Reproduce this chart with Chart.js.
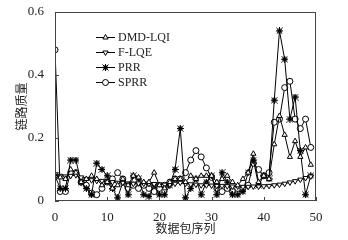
<!DOCTYPE html>
<html>
<head>
<meta charset="utf-8">
<script src="https://cdn.jsdelivr.net/npm/chart.js@4.4.1/dist/chart.umd.min.js"></script>
<style>
  html, body { margin: 0; padding: 0; background: #fff; }
  canvas { display: block; }
</style>
</head>
<body>
<canvas id="chartLinkQuality" width="348" height="240"></canvas>
<script>
// Séquence des paquets
const sequence = [0,1,2,3,4,5,6,7,8,9,10,11,12,13,14,15,16,17,18,19,20,21,22,23,24,25,26,27,28,29,30,31,32,33,34,35,36,37,38,39,40,41,42,43,44,45,46,47,48,49];

// Qualité de lien par méthode
const dmdLqi = [0.08,0.075,0.07,0.10,0.09,0.06,0.07,0.08,0.07,0.05,0.06,0.04,0.05,0.07,0.05,0.08,0.075,0.06,0.06,0.09,0.05,0.04,0.06,0.07,0.07,0.06,0.08,0.07,0.08,0.08,0.08,0.06,0.07,0.08,0.06,0.05,0.07,0.09,0.15,0.06,0.08,0.07,0.18,0.27,0.21,0.14,0.19,0.14,0.17,0.115];
const fLqe = [0.085,0.08,0.078,0.08,0.082,0.075,0.07,0.066,0.064,0.064,0.062,0.06,0.058,0.058,0.056,0.055,0.056,0.055,0.054,0.054,0.053,0.052,0.052,0.055,0.058,0.055,0.053,0.052,0.05,0.05,0.049,0.048,0.048,0.047,0.046,0.046,0.045,0.045,0.046,0.046,0.047,0.048,0.05,0.052,0.055,0.059,0.063,0.068,0.073,0.078];
const prr = [0.08,0.04,0.04,0.13,0.13,0.06,0.04,0.02,0.12,0.10,0.08,0.04,0.01,0.06,0.02,0.08,0.07,0.02,0.015,0.05,0.02,0.02,0.05,0.10,0.23,0.01,0.04,0.07,0.02,0.06,0.08,0.02,0.09,0.06,0.02,0.02,0.03,0.09,0.13,0.05,0.08,0.07,0.32,0.54,0.45,0.26,0.33,0.16,0.02,0.08];
const sprr = [0.48,0.03,0.03,0.09,0.09,0.06,0.05,0.025,0.02,0.04,0.06,0.07,0.09,0.07,0.04,0.05,0.04,0.05,0.04,0.03,0.04,0.05,0.06,0.07,0.07,0.09,0.13,0.16,0.14,0.105,0.075,0.04,0.03,0.04,0.03,0.04,0.04,0.05,0.12,0.10,0.08,0.09,0.25,0.26,0.36,0.38,0.26,0.23,0.26,0.17];

const seriesLabels = ['DMD-LQI', 'F-LQE', 'PRR', 'SPRR'];
const xTicks = [0, 10, 20, 30, 40, 50];
const yTicks = [0, 0.2, 0.4, 0.6];

const serif = "'Liberation Serif', 'Times New Roman', serif";

// Marqueur PRR : petit carré plein avec une étoile
function makePrrMarker() {
    const c = document.createElement('canvas');
    c.width = 7; c.height = 7;
    const g = c.getContext('2d');
    g.strokeStyle = '#000';
    g.lineWidth = 1;
    g.beginPath();
    g.moveTo(3.5, 0); g.lineTo(3.5, 7);
    g.moveTo(0, 3.5); g.lineTo(7, 3.5);
    g.moveTo(0.5, 0.5); g.lineTo(6.5, 6.5);
    g.moveTo(6.5, 0.5); g.lineTo(0.5, 6.5);
    g.stroke();
    g.fillStyle = '#000';
    g.fillRect(1.5, 1.5, 4, 4);
    return c;
}
const prrMarker = makePrrMarker();

function toPoints(values) {
    return values.map((v, i) => ({ x: sequence[i], y: v }));
}

const markers = [
    { pointStyle: 'triangle', radius: 3, rotation: 0 },
    { pointStyle: 'triangle', radius: 3, rotation: 180 },
    { pointStyle: prrMarker, radius: 3.5, rotation: 0 },
    { pointStyle: 'circle', radius: 3, rotation: 0 }
];

const allSeries = [dmdLqi, fLqe, prr, sprr];

const datasets = allSeries.map((values, k) => ({
    label: seriesLabels[k],
    data: toPoints(values),
    borderColor: '#000',
    backgroundColor: '#fff',
    borderWidth: 1,
    pointStyle: markers[k].pointStyle,
    pointRadius: markers[k].radius,
    pointRotation: markers[k].rotation,
    pointBorderWidth: 1,
    pointBorderColor: '#000',
    pointBackgroundColor: '#fff',
    tension: 0
}));

// Cadre, graduations vers l'intérieur et légende dans la zone du graphique
const framePlugin = {
    id: 'frame',
    afterDatasetsDraw(chart) {
        const ctx = chart.ctx;
        const a = chart.chartArea;
        const xs = chart.scales.x;
        const ys = chart.scales.y;
        ctx.save();
        ctx.strokeStyle = '#444';
        ctx.lineWidth = 1;
        ctx.strokeRect(a.left + 0.5, a.top + 0.5, a.right - a.left - 1, a.bottom - a.top - 1);
        ctx.beginPath();
        yTicks.forEach(v => {
            const p = Math.round(ys.getPixelForValue(v)) + 0.5;
            ctx.moveTo(a.left, p); ctx.lineTo(a.left + 4, p);
        });
        xTicks.forEach(v => {
            const p = Math.round(xs.getPixelForValue(v)) + 0.5;
            ctx.moveTo(p, a.bottom); ctx.lineTo(p, a.bottom - 4);
        });
        ctx.stroke();

        // Légende
        ctx.font = '12px ' + serif;
        ctx.textBaseline = 'middle';
        ctx.textAlign = 'left';
        seriesLabels.forEach((label, k) => {
            const y = 37 + k * 15;
            ctx.strokeStyle = '#000';
            ctx.beginPath();
            ctx.moveTo(96, y + 0.5); ctx.lineTo(115, y + 0.5);
            ctx.stroke();
            ctx.fillStyle = '#fff';
            Chart.helpers.drawPoint(ctx, {
                pointStyle: markers[k].pointStyle,
                radius: markers[k].radius,
                rotation: markers[k].rotation,
                borderWidth: 1
            }, 105.5, y + 0.5);
            ctx.fillStyle = '#222';
            ctx.fillText(label, 118, y + 1);
        });
        ctx.restore();
    }
};

const canvas = document.getElementById('chartLinkQuality');

new Chart(canvas, {
    type: 'line',
    data: { datasets: datasets },
    options: {
        responsive: false,
        animation: false,
        layout: { padding: { left: 4, right: 32, top: 12, bottom: 4 } },
        plugins: {
            legend: { display: false },
            tooltip: { enabled: false }
        },
        scales: {
            x: {
                type: 'linear',
                min: 0,
                max: 50,
                grid: { display: false },
                border: { display: false },
                afterFit: (scale) => { scale.height = 35; },
                afterBuildTicks: (scale) => { scale.ticks = xTicks.map(v => ({ value: v })); },
                ticks: {
                    padding: 1,
                    color: '#222',
                    font: { family: serif, size: 13 }
                },
                title: {
                    display: true,
                    text: '数据包序列',
                    color: '#222',
                    padding: { top: 0, bottom: 0 },
                    font: { family: "'Noto Sans CJK SC', sans-serif", size: 12 }
                }
            },
            y: {
                min: 0,
                max: 0.6,
                grid: { display: false },
                border: { display: false },
                afterFit: (scale) => { scale.width = 51; },
                afterBuildTicks: (scale) => { scale.ticks = yTicks.map(v => ({ value: v })); },
                ticks: {
                    padding: 3,
                    color: '#222',
                    font: { family: serif, size: 13 },
                    callback: (v) => String(Math.round(v * 10) / 10)
                },
                title: {
                    display: true,
                    text: '链路质量',
                    color: '#222',
                    padding: { top: 10, bottom: 0 },
                    font: { family: "'Noto Sans CJK SC', sans-serif", size: 12 }
                }
            }
        }
    },
    plugins: [framePlugin]
});
</script>
</body>
</html>
